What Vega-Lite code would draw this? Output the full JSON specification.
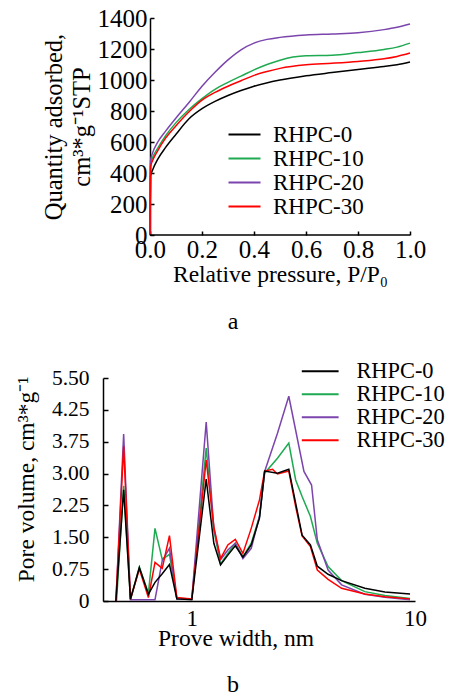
{
  "$schema": "https://vega.github.io/schema/vega-lite/v6.json",
  "padding": {"left": 14, "top": 6, "right": 0, "bottom": 0},
  "spacing": 26,
  "background": "white",
  "config": {
    "font": "Liberation Serif",
    "view": {"stroke": null},
    "axis": {
      "labelFont": "Liberation Serif", "titleFont": "Liberation Serif",
      "labelFontSize": 23, "titleFontSize": 23.5, "titleFontWeight": "normal",
      "labelColor": "black", "titleColor": "black", "domainColor": "black", "tickColor": "black",
      "grid": false, "domainWidth": 1.5, "tickWidth": 1.5, "labelFlush": false, "labelOverlap": false
    },
    "legend": {"labelFont": "Liberation Serif", "labelColor": "black"},
    "title": {"font": "Liberation Serif", "fontWeight": "normal", "color": "black"}
  },
  "datasets": {
    "iso": [
      {"s":"RHPC-0","p":0,"q":0},{"s":"RHPC-0","p":0.002,"q":380},{"s":"RHPC-0","p":0.01,"q":420},{"s":"RHPC-0","p":0.03,"q":490},{"s":"RHPC-0","p":0.06,"q":565},{"s":"RHPC-0","p":0.1,"q":650},{"s":"RHPC-0","p":0.15,"q":750},{"s":"RHPC-0","p":0.2,"q":815},{"s":"RHPC-0","p":0.25,"q":862},{"s":"RHPC-0","p":0.3,"q":900},{"s":"RHPC-0","p":0.35,"q":932},{"s":"RHPC-0","p":0.4,"q":960},{"s":"RHPC-0","p":0.5,"q":1000},{"s":"RHPC-0","p":0.6,"q":1027},{"s":"RHPC-0","p":0.7,"q":1048},{"s":"RHPC-0","p":0.8,"q":1068},{"s":"RHPC-0","p":0.9,"q":1087},{"s":"RHPC-0","p":0.95,"q":1098},{"s":"RHPC-0","p":1.0,"q":1116},
      {"s":"RHPC-10","p":0,"q":0},{"s":"RHPC-10","p":0.002,"q":460},{"s":"RHPC-10","p":0.01,"q":500},{"s":"RHPC-10","p":0.03,"q":560},{"s":"RHPC-10","p":0.06,"q":640},{"s":"RHPC-10","p":0.1,"q":725},{"s":"RHPC-10","p":0.15,"q":810},{"s":"RHPC-10","p":0.2,"q":880},{"s":"RHPC-10","p":0.25,"q":940},{"s":"RHPC-10","p":0.3,"q":985},{"s":"RHPC-10","p":0.35,"q":1025},{"s":"RHPC-10","p":0.4,"q":1065},{"s":"RHPC-10","p":0.45,"q":1100},{"s":"RHPC-10","p":0.5,"q":1128},{"s":"RHPC-10","p":0.55,"q":1148},{"s":"RHPC-10","p":0.6,"q":1157},{"s":"RHPC-10","p":0.7,"q":1160},{"s":"RHPC-10","p":0.8,"q":1177},{"s":"RHPC-10","p":0.9,"q":1197},{"s":"RHPC-10","p":0.95,"q":1212},{"s":"RHPC-10","p":1.0,"q":1238},
      {"s":"RHPC-20","p":0,"q":0},{"s":"RHPC-20","p":0.002,"q":480},{"s":"RHPC-20","p":0.01,"q":530},{"s":"RHPC-20","p":0.03,"q":600},{"s":"RHPC-20","p":0.06,"q":670},{"s":"RHPC-20","p":0.1,"q":755},{"s":"RHPC-20","p":0.15,"q":855},{"s":"RHPC-20","p":0.2,"q":960},{"s":"RHPC-20","p":0.25,"q":1050},{"s":"RHPC-20","p":0.3,"q":1130},{"s":"RHPC-20","p":0.35,"q":1195},{"s":"RHPC-20","p":0.4,"q":1238},{"s":"RHPC-20","p":0.45,"q":1262},{"s":"RHPC-20","p":0.5,"q":1275},{"s":"RHPC-20","p":0.6,"q":1290},{"s":"RHPC-20","p":0.7,"q":1297},{"s":"RHPC-20","p":0.8,"q":1305},{"s":"RHPC-20","p":0.9,"q":1325},{"s":"RHPC-20","p":0.95,"q":1340},{"s":"RHPC-20","p":1.0,"q":1361},
      {"s":"RHPC-30","p":0,"q":0},{"s":"RHPC-30","p":0.002,"q":440},{"s":"RHPC-30","p":0.01,"q":480},{"s":"RHPC-30","p":0.03,"q":545},{"s":"RHPC-30","p":0.06,"q":625},{"s":"RHPC-30","p":0.1,"q":705},{"s":"RHPC-30","p":0.15,"q":795},{"s":"RHPC-30","p":0.2,"q":870},{"s":"RHPC-30","p":0.25,"q":920},{"s":"RHPC-30","p":0.3,"q":960},{"s":"RHPC-30","p":0.35,"q":995},{"s":"RHPC-30","p":0.4,"q":1030},{"s":"RHPC-30","p":0.45,"q":1055},{"s":"RHPC-30","p":0.5,"q":1075},{"s":"RHPC-30","p":0.6,"q":1098},{"s":"RHPC-30","p":0.7,"q":1108},{"s":"RHPC-30","p":0.8,"q":1120},{"s":"RHPC-30","p":0.9,"q":1137},{"s":"RHPC-30","p":0.95,"q":1152},{"s":"RHPC-30","p":1.0,"q":1174}
    ],
    "psd": [
      {"s":"RHPC-10","w":0.46,"v":0},{"s":"RHPC-10","w":0.495,"v":2.71},{"s":"RHPC-10","w":0.531,"v":0.04},{"s":"RHPC-10","w":0.582,"v":0.8},{"s":"RHPC-10","w":0.639,"v":0.18},{"s":"RHPC-10","w":0.684,"v":1.71},{"s":"RHPC-10","w":0.737,"v":0.98},{"s":"RHPC-10","w":0.794,"v":1.1},{"s":"RHPC-10","w":0.857,"v":0.05},{"s":"RHPC-10","w":1.0,"v":0.05},{"s":"RHPC-10","w":1.16,"v":3.6},{"s":"RHPC-10","w":1.255,"v":1.67},{"s":"RHPC-10","w":1.345,"v":0.87},{"s":"RHPC-10","w":1.45,"v":1.12},{"s":"RHPC-10","w":1.566,"v":1.36},{"s":"RHPC-10","w":1.694,"v":1.04},{"s":"RHPC-10","w":1.846,"v":1.36},{"s":"RHPC-10","w":2.01,"v":1.99},{"s":"RHPC-10","w":2.12,"v":3.01},{"s":"RHPC-10","w":2.42,"v":3.36},{"s":"RHPC-10","w":2.72,"v":3.72},{"s":"RHPC-10","w":2.92,"v":2.85},{"s":"RHPC-10","w":3.12,"v":2.46},{"s":"RHPC-10","w":3.4,"v":1.99},{"s":"RHPC-10","w":3.65,"v":1.36},{"s":"RHPC-10","w":4.08,"v":0.81},{"s":"RHPC-10","w":4.69,"v":0.48},{"s":"RHPC-10","w":5.96,"v":0.22},{"s":"RHPC-10","w":7.33,"v":0.13},{"s":"RHPC-10","w":9.5,"v":0.06},
      {"s":"RHPC-20","w":0.457,"v":0},{"s":"RHPC-20","w":0.495,"v":3.93},{"s":"RHPC-20","w":0.531,"v":0.03},{"s":"RHPC-20","w":0.582,"v":0.03},{"s":"RHPC-20","w":0.639,"v":0.03},{"s":"RHPC-20","w":0.684,"v":0.03},{"s":"RHPC-20","w":0.737,"v":0.95},{"s":"RHPC-20","w":0.794,"v":1.24},{"s":"RHPC-20","w":0.857,"v":0.05},{"s":"RHPC-20","w":1.0,"v":0.05},{"s":"RHPC-20","w":1.16,"v":4.21},{"s":"RHPC-20","w":1.255,"v":1.71},{"s":"RHPC-20","w":1.345,"v":0.97},{"s":"RHPC-20","w":1.45,"v":1.2},{"s":"RHPC-20","w":1.566,"v":1.36},{"s":"RHPC-20","w":1.694,"v":1.0},{"s":"RHPC-20","w":1.846,"v":1.24},{"s":"RHPC-20","w":2.01,"v":1.99},{"s":"RHPC-20","w":2.12,"v":3.05},{"s":"RHPC-20","w":2.42,"v":3.95},{"s":"RHPC-20","w":2.72,"v":4.82},{"s":"RHPC-20","w":3.18,"v":3.05},{"s":"RHPC-20","w":3.44,"v":2.73},{"s":"RHPC-20","w":3.65,"v":1.44},{"s":"RHPC-20","w":4.08,"v":0.73},{"s":"RHPC-20","w":4.69,"v":0.38},{"s":"RHPC-20","w":5.96,"v":0.16},{"s":"RHPC-20","w":7.33,"v":0.09},{"s":"RHPC-20","w":9.5,"v":0.03},
      {"s":"RHPC-30","w":0.457,"v":0},{"s":"RHPC-30","w":0.495,"v":3.64},{"s":"RHPC-30","w":0.531,"v":0.04},{"s":"RHPC-30","w":0.582,"v":0.75},{"s":"RHPC-30","w":0.639,"v":0.08},{"s":"RHPC-30","w":0.684,"v":0.91},{"s":"RHPC-30","w":0.737,"v":0.77},{"s":"RHPC-30","w":0.794,"v":1.54},{"s":"RHPC-30","w":0.857,"v":0.08},{"s":"RHPC-30","w":1.0,"v":0.05},{"s":"RHPC-30","w":1.16,"v":3.32},{"s":"RHPC-30","w":1.255,"v":1.75},{"s":"RHPC-30","w":1.345,"v":1.0},{"s":"RHPC-30","w":1.45,"v":1.32},{"s":"RHPC-30","w":1.566,"v":1.45},{"s":"RHPC-30","w":1.694,"v":1.12},{"s":"RHPC-30","w":1.846,"v":1.71},{"s":"RHPC-30","w":2.01,"v":2.38},{"s":"RHPC-30","w":2.12,"v":3.06},{"s":"RHPC-30","w":2.3,"v":3.1},{"s":"RHPC-30","w":2.42,"v":2.99},{"s":"RHPC-30","w":2.72,"v":3.06},{"s":"RHPC-30","w":2.92,"v":2.22},{"s":"RHPC-30","w":3.12,"v":1.53},{"s":"RHPC-30","w":3.4,"v":1.28},{"s":"RHPC-30","w":3.65,"v":0.73},{"s":"RHPC-30","w":4.08,"v":0.51},{"s":"RHPC-30","w":4.69,"v":0.3},{"s":"RHPC-30","w":5.96,"v":0.165},{"s":"RHPC-30","w":7.33,"v":0.1},{"s":"RHPC-30","w":9.5,"v":0.05},
      {"s":"RHPC-0","w":0.457,"v":0},{"s":"RHPC-0","w":0.495,"v":2.62},{"s":"RHPC-0","w":0.531,"v":0.04},{"s":"RHPC-0","w":0.582,"v":0.79},{"s":"RHPC-0","w":0.639,"v":0.16},{"s":"RHPC-0","w":0.684,"v":0.44},{"s":"RHPC-0","w":0.737,"v":0.64},{"s":"RHPC-0","w":0.794,"v":0.86},{"s":"RHPC-0","w":0.857,"v":0.05},{"s":"RHPC-0","w":1.0,"v":0.03},{"s":"RHPC-0","w":1.16,"v":2.87},{"s":"RHPC-0","w":1.255,"v":1.36},{"s":"RHPC-0","w":1.345,"v":0.85},{"s":"RHPC-0","w":1.45,"v":1.08},{"s":"RHPC-0","w":1.566,"v":1.3},{"s":"RHPC-0","w":1.694,"v":1.03},{"s":"RHPC-0","w":1.846,"v":1.32},{"s":"RHPC-0","w":2.01,"v":1.95},{"s":"RHPC-0","w":2.12,"v":3.06},{"s":"RHPC-0","w":2.42,"v":3.01},{"s":"RHPC-0","w":2.72,"v":3.1},{"s":"RHPC-0","w":2.92,"v":2.3},{"s":"RHPC-0","w":3.12,"v":1.55},{"s":"RHPC-0","w":3.4,"v":1.32},{"s":"RHPC-0","w":3.65,"v":0.82},{"s":"RHPC-0","w":4.08,"v":0.63},{"s":"RHPC-0","w":4.69,"v":0.48},{"s":"RHPC-0","w":5.96,"v":0.3},{"s":"RHPC-0","w":7.33,"v":0.21},{"s":"RHPC-0","w":9.5,"v":0.165}
    ]
  },
  "vconcat": [
    {
      "width": 307, "height": 217,
      "title": {"text": "a", "orient": "bottom", "anchor": "middle", "frame": "group", "dx": -23.5, "fontSize": 24, "offset": 24},
      "layer": [
        {
          "data": {"name": "iso"},
          "mark": {"type": "line", "strokeWidth": 1.5, "interpolate": "monotone"},
          "encoding": {
            "x": {"field": "p", "type": "quantitative", "scale": {"domain": [-0.180769, 1], "nice": false, "zero": false},
                  "axis": {"values": [0, 0.2, 0.4, 0.6, 0.8, 1.0], "format": ".1f", "domain": false, "tickSize": -4, "labelPadding": 6, "labelFontSize": 25, "labelOverlap": false, "titlePadding": 0, "titleX": 177, "title": "Relative pressure, P/P₀"}},
            "y": {"field": "q", "type": "quantitative", "scale": {"domain": [0, 1400], "nice": false},
                  "axis": {"values": [0, 200, 400, 600, 800, 1000, 1200, 1400], "format": "d", "offset": -47, "tickSize": -4, "labelPadding": 7, "labelFontSize": 25, "labelOverlap": false, "titlePadding": 3, "titleFontSize": 24.5, "titleLineHeight": 28, "title": ["Quantity adsorbed,", "cm³*g⁻¹STP"]}},
            "color": {"field": "s", "type": "nominal",
                      "scale": {"domain": ["RHPC-0", "RHPC-10", "RHPC-20", "RHPC-30"], "range": ["#000000", "#1eaa50", "#7b45ad", "#ff0000"]},
                      "legend": {"title": null, "orient": "none", "legendX": 130, "legendY": 105, "symbolType": "M-4,0H4", "symbolSize": 64, "symbolStrokeWidth": 2, "labelFontSize": 23, "labelOffset": 17, "rowPadding": 0}}
          }
        },
        {
          "data": {"values": [{}]},
          "mark": {"type": "rule", "color": "black", "strokeWidth": 1.5},
          "encoding": {
            "x": {"datum": 0, "type": "quantitative",
                  "axis": {"values": [0, 0.2, 0.4, 0.6, 0.8, 1.0], "format": ".1f", "domain": false, "tickSize": -4, "labelPadding": 6, "labelFontSize": 25, "labelOverlap": false, "titlePadding": 0, "titleX": 177, "title": "Relative pressure, P/P₀"}},
            "x2": {"datum": 1},
            "y": {"datum": 0, "type": "quantitative",
                  "axis": {"values": [0, 200, 400, 600, 800, 1000, 1200, 1400], "format": "d", "offset": -47, "tickSize": -4, "labelPadding": 7, "labelFontSize": 25, "labelOverlap": false, "titlePadding": 3, "titleFontSize": 24.5, "titleLineHeight": 28, "title": ["Quantity adsorbed,", "cm³*g⁻¹STP"]}}
          }
        }
      ]
    },
    {
      "width": 312, "height": 223,
      "data": {"name": "psd"},
      "title": {"text": "b", "orient": "bottom", "anchor": "middle", "frame": "group", "dx": -26, "fontSize": 24, "offset": 23},
      "mark": {"type": "line", "strokeWidth": 1.5},
      "encoding": {
        "x": {"field": "w", "type": "quantitative", "scale": {"type": "log", "domain": [0.4, 10], "nice": false},
              "axis": {"values": [1, 10], "format": "d", "ticks": false, "labelPadding": 6, "titlePadding": -4, "titleX": 132.5, "title": "Prove width, nm"}},
        "y": {"field": "v", "type": "quantitative", "scale": {"domain": [0, 5.25], "nice": false},
              "axis": {"values": [0, 0.75, 1.5, 2.25, 3, 3.75, 4.5, 5.25], "tickSize": -5, "labelPadding": 19, "labelFontSize": 21.5, "labelOverlap": false, "titlePadding": 13, "titleY": 101,
                       "labelExpr": "datum.value == 0 ? '0' : datum.value == 4.5 ? '4.25' : datum.value == 5.25 ? '5.50' : format(datum.value, '.2f')",
                       "title": "Pore volume, cm³*g⁻¹"}},
        "color": {"field": "s", "type": "nominal",
                  "scale": {"domain": ["RHPC-0", "RHPC-10", "RHPC-20", "RHPC-30"], "range": ["#000000", "#1eaa50", "#7b45ad", "#ff0000"]},
                  "legend": {"title": null, "orient": "none", "legendX": 206, "legendY": -18, "symbolType": "M-4.6,0H4.6", "symbolSize": 64, "symbolStrokeWidth": 2, "labelFontSize": 22.4, "labelOffset": 25, "rowPadding": 0}}
      }
    }
  ],
  "resolve": {"scale": {"color": "independent"}, "legend": {"color": "independent"}}
}
